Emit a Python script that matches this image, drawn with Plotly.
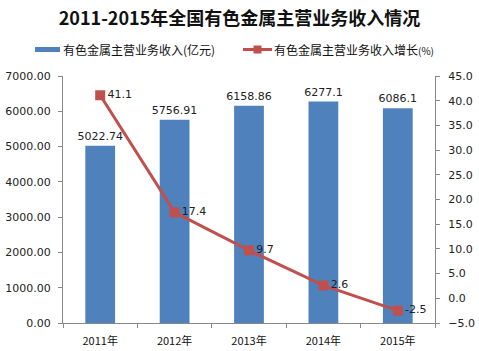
import plotly.graph_objects as go

years = ["2011年", "2012年", "2013年", "2014年", "2015年"]
revenue = [5022.74, 5756.91, 6158.86, 6277.1, 6086.1]
revenue_labels = ["5022.74", "5756.91", "6158.86", "6277.1", "6086.1"]
growth = [41.1, 17.4, 9.7, 2.6, -2.5]
growth_labels = ["41.1", "17.4", "9.7", "2.6", "-2.5"]
name_rev = "有色金属主营业务收入(亿元)"
name_growth = "有色金属主营业务收入增长"

font_cjk = "Noto Sans CJK SC"
font_num = "DejaVu Sans"
BLUE = "#4F81BD"
RED = "#C0504D"

fig = go.Figure()
fig.add_trace(go.Bar(
    x=years, y=revenue, name=name_rev,
    marker=dict(color=BLUE, line=dict(width=0)),
    width=0.4, text=revenue_labels, textposition="outside",
    constraintext="none",
    textfont=dict(family=font_num, size=11, color="#222"),
    cliponaxis=False,
))
fig.add_trace(go.Scatter(
    x=years, y=growth, name=name_growth + "(%)", yaxis="y2",
    mode="lines+markers+text",
    line=dict(color=RED, width=3),
    marker=dict(symbol="square", size=10, color=RED),
    text=growth_labels, textposition="middle right",
    textfont=dict(family=font_num, size=11, color="#222"),
    cliponaxis=False,
))

# manual legend (paper coordinates; plot area spans x 63..435 px, y 76..323 px)
def px(xp):
    return (xp - 63) / 372.0

def py(yp):
    return (323 - yp) / 247.0

shapes = [
    dict(type="rect", xref="paper", yref="paper", x0=px(35), x1=px(60), y0=py(52), y1=py(47),
         fillcolor=BLUE, line=dict(width=0), layer="above"),
    dict(type="line", xref="paper", yref="paper", x0=px(243), x1=px(272), y0=py(49.5), y1=py(49.5),
         line=dict(color=RED, width=3), layer="above"),
    dict(type="rect", xref="paper", yref="paper", x0=px(253.5), x1=px(261.5), y0=py(53.5), y1=py(45.5),
         fillcolor=RED, line=dict(width=0), layer="above"),
]
annotations = [
    dict(xref="paper", yref="paper", x=px(61), y=py(49.5), xanchor="left", yanchor="middle",
         text=name_rev, showarrow=False, font=dict(family=font_cjk, size=12, color="#111")),
    dict(xref="paper", yref="paper", x=px(272), y=py(49.5), xanchor="left", yanchor="middle",
         text=name_growth + '<span style="font-size:10px">(%)</span>', showarrow=False,
         font=dict(family=font_cjk, size=12, color="#111")),
]

fig.update_layout(
    width=479, height=351,
    margin=dict(l=63, r=44, t=76, b=28, autoexpand=False),
    paper_bgcolor="white", plot_bgcolor="white",
    showlegend=False,
    shapes=shapes, annotations=annotations,
    title=dict(text="<b>2011-2015年全国有色金属主营业务收入情况</b>",
               x=0.5, xanchor="center", y=0.948, yanchor="middle",
               font=dict(family=font_cjk, size=18, color="#111")),
    xaxis=dict(showline=True, linecolor="#888", linewidth=1, automargin=False,
               ticks="outside", tickson="boundaries", ticklen=4, tickcolor="#888",
               ticklabelstandoff=8,
               tickfont=dict(family=font_cjk, size=11, color="#111"),
               showgrid=False),
    yaxis=dict(range=[0, 7000], dtick=1000, tickformat=".2f", automargin=False,
               showline=True, linecolor="#888", linewidth=1,
               ticks="outside", ticklen=4, tickcolor="#888",
               ticklabelstandoff=5,
               tickfont=dict(family=font_num, size=11, color="#222"),
               showgrid=False, zeroline=False),
    yaxis2=dict(range=[-5, 45], dtick=5, tickformat=".1f", overlaying="y", side="right",
                automargin=False,
                showline=True, linecolor="#888", linewidth=1,
                ticks="outside", ticklen=4, tickcolor="#888",
                ticklabelstandoff=6,
                tickfont=dict(family=font_num, size=11, color="#222"),
                showgrid=False, zeroline=False),
)

fig.write_html("out.html")
